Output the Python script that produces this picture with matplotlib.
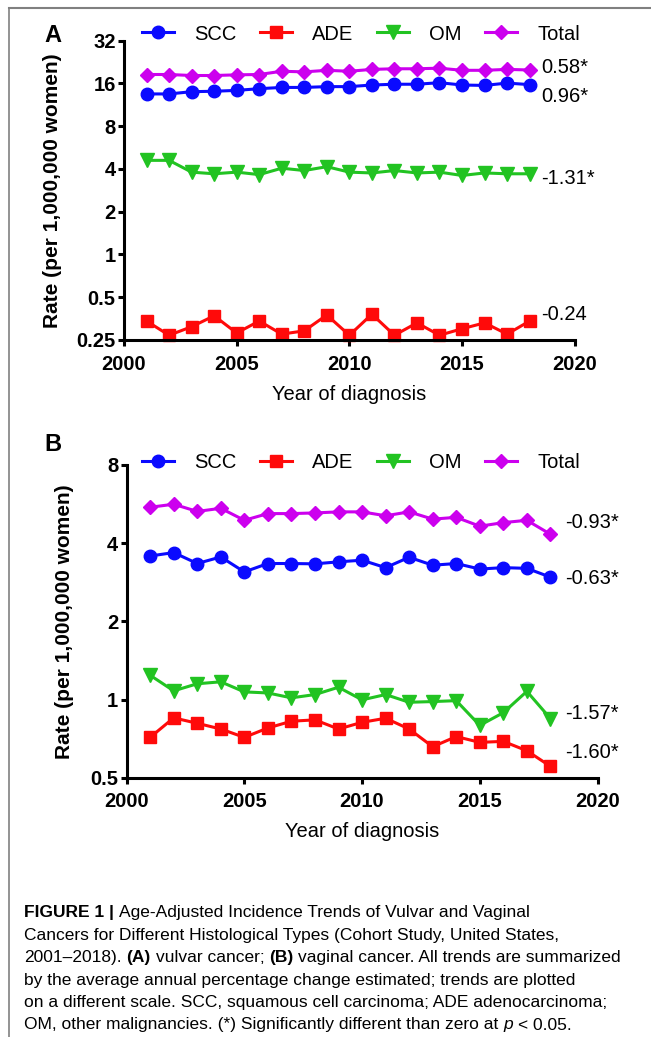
import numpy as np
import matplotlib
matplotlib.use('Agg')
import matplotlib.pyplot as plt
from matplotlib.lines import Line2D

W, H = 651, 1037
FONT = ['Liberation Sans', 'DejaVu Sans']

years = list(range(2001, 2019))
series_names = ['SCC', 'ADE', 'OM', 'Total']

# vulvar cancer (panel A)
vul_scc = [13.5, 13.5, 14.0, 14.1, 14.3, 14.7, 15.0, 15.0, 15.2, 15.2, 15.6, 15.8, 15.8, 16.2, 15.6, 15.5, 16.1, 15.7]
vul_ade = [0.34, 0.27, 0.31, 0.37, 0.28, 0.34, 0.275, 0.29, 0.375, 0.27, 0.38, 0.27, 0.33, 0.27, 0.30, 0.33, 0.275, 0.34]
vul_om = [4.6, 4.6, 3.8, 3.7, 3.8, 3.65, 4.05, 3.9, 4.15, 3.8, 3.75, 3.9, 3.75, 3.8, 3.6, 3.75, 3.7, 3.7]
vul_tot = [18.5, 18.5, 18.2, 18.2, 18.4, 18.5, 19.5, 19.3, 19.8, 19.5, 20.1, 20.3, 20.3, 20.5, 19.8, 19.8, 20.1, 19.9]
vul_apc = ['0.96*', '-0.24', '-1.31*', '0.58*']

# vaginal cancer (panel B)
vag_scc = [3.57, 3.68, 3.34, 3.54, 3.10, 3.34, 3.34, 3.33, 3.39, 3.44, 3.22, 3.53, 3.29, 3.34, 3.18, 3.22, 3.20, 2.96]
vag_ade = [0.715, 0.85, 0.81, 0.77, 0.715, 0.777, 0.825, 0.835, 0.77, 0.817, 0.847, 0.77, 0.658, 0.72, 0.684, 0.69, 0.635, 0.553]
vag_om = [1.24, 1.08, 1.15, 1.17, 1.07, 1.06, 1.015, 1.045, 1.115, 0.997, 1.045, 0.976, 0.982, 0.99, 0.795, 0.89, 1.075, 0.845]
vag_tot = [5.5, 5.65, 5.3, 5.45, 4.9, 5.2, 5.2, 5.23, 5.28, 5.28, 5.1, 5.28, 4.95, 5.03, 4.65, 4.8, 4.9, 4.33]
vag_apc = ['-0.63*', '-1.60*', '-1.57*', '-0.93*']

vul_ticks = [0.25, 0.5, 1, 2, 4, 8, 16, 32]
vul_ticklabels = ['0.25', '0.5', '1', '2', '4', '8', '16', '32']
vag_ticks = [0.5, 1, 2, 4, 8]
vag_ticklabels = ['0.5', '1', '2', '4', '8']
x_ticks = [2000, 2005, 2010, 2015, 2020]

colors = ['#0a0aff', '#ff0a0a', '#22c322', '#cc00ee']
markers = ['o', 's', 'v', 'D']
msizes = [9, 8.5, 9.5, 7]


def fx(px):
    return px / W


def fy(py):
    return 1 - py / H


def draw_panel(fig, rect, data, apc, offsets, ticks, ticklabels, letter, letter_y, leg_y, ylab_x):
    left, top, right, bottom = rect
    ax = fig.add_axes([fx(left), fy(bottom), fx(right - left), (bottom - top) / H])
    for vals, c, m, ms, name in zip(data, colors, markers, msizes, series_names):
        ax.plot(years, vals, color=c, marker=m, markersize=ms, lw=2.2, label=name, clip_on=False)
    ax.set_yscale('log', base=2)
    ax.set_ylim(ticks[0], ticks[-1])
    ax.set_xlim(2000, 2020)
    ax.yaxis.set_major_locator(matplotlib.ticker.FixedLocator(ticks))
    ax.yaxis.set_minor_locator(matplotlib.ticker.NullLocator())
    ax.set_yticklabels(ticklabels)
    ax.set_xticks(x_ticks)
    for s in ['top', 'right']:
        ax.spines[s].set_visible(False)
    for s in ['left', 'bottom']:
        ax.spines[s].set_linewidth(2.2)
    ax.tick_params(axis='y', width=2.2, length=4, pad=2)
    ax.tick_params(axis='x', width=2.2, length=4.5, pad=6)
    for lab in ax.get_xticklabels() + ax.get_yticklabels():
        lab.set_fontfamily(FONT)
        lab.set_fontweight('bold')
        lab.set_fontsize(14.5)
    ax.set_xlabel('Year of diagnosis', fontsize=14.5, family=FONT, labelpad=8)
    fig.text(fx(ylab_x), fy((top + bottom) / 2), 'Rate (per 1,000,000 women)', rotation=90,
             ha='center', va='center', fontsize=15, fontweight='bold', family=FONT)
    fig.text(fx(44), fy(letter_y), letter, fontsize=17, fontweight='bold', family=FONT,
             ha='left', va='center')
    for vals, lab, off in zip(data, apc, offsets):
        ax.annotate(lab, xy=(years[-1], vals[-1]), xytext=off, textcoords='offset points',
                    ha='left', va='center', fontsize=14.5, family=FONT)
    ax.legend(loc='center left', bbox_to_anchor=(fx(142), fy(leg_y)), bbox_transform=fig.transFigure,
              ncol=4, frameon=False, borderpad=0, borderaxespad=0, handlelength=1.6,
              handletextpad=1.0, columnspacing=1.15, prop={'family': FONT, 'size': 14.5})
    return ax


def rich_line(fig, x_px, y_px, parts, size):
    renderer = fig.canvas.get_renderer()
    x = x_px
    space = size * 100 / 72 * 0.278
    for txt, style in parts:
        kw = {'fontweight': 'bold'} if style == 'b' else ({'fontstyle': 'italic'} if style == 'i' else {})
        t = fig.text(fx(x), fy(y_px), txt, fontsize=size, family=FONT, ha='left', va='center', **kw)
        x += t.get_window_extent(renderer).width + space


def main():
    fig = plt.figure(figsize=(W / 100, H / 100), dpi=100)

    draw_panel(fig, (124, 40.7, 574.7, 340), [vul_scc, vul_ade, vul_om, vul_tot], vul_apc,
               [(8.4, -8.4), (8.4, 4.8), (8.4, -3.1), (8.4, 1.7)],
               vul_ticks, vul_ticklabels, 'A', 36, 34, 53)
    draw_panel(fig, (126.6, 465, 597.5, 777.7), [vag_scc, vag_ade, vag_om, vag_tot], vag_apc,
               [(10.5, -0.9), (10.5, 10), (10.5, 3.6), (10.5, 8.4)],
               vag_ticks, vag_ticklabels, 'B', 445, 462.7, 65)

    # frame around the figure
    fig.add_artist(Line2D([fx(9), 1], [fy(8), fy(8)], color='#808080', lw=1.5))
    fig.add_artist(Line2D([fx(9), fx(9)], [fy(8), 0], color='#808080', lw=1.2))

    # caption
    cap = [
        [('FIGURE 1 |', 'b'), ('Age-Adjusted Incidence Trends of Vulvar and Vaginal', '')],
        [('Cancers for Different Histological Types (Cohort Study, United States,', '')],
        [('2001–2018).', ''), ('(A)', 'b'), ('vulvar cancer;', ''), ('(B)', 'b'),
         ('vaginal cancer. All trends are summarized', '')],
        [('by the average annual percentage change estimated; trends are plotted', '')],
        [('on a different scale. SCC, squamous cell carcinoma; ADE adenocarcinoma;', '')],
        [('OM, other malignancies. (*) Significantly different than zero at', ''), ('p', 'i'),
         ('< 0.05.', '')],
    ]
    for i, parts in enumerate(cap):
        rich_line(fig, 24, 913 + i * 22.4, parts, 12.5)

    fig.savefig('out.png', dpi=100)


if __name__ == '__main__':
    main()
